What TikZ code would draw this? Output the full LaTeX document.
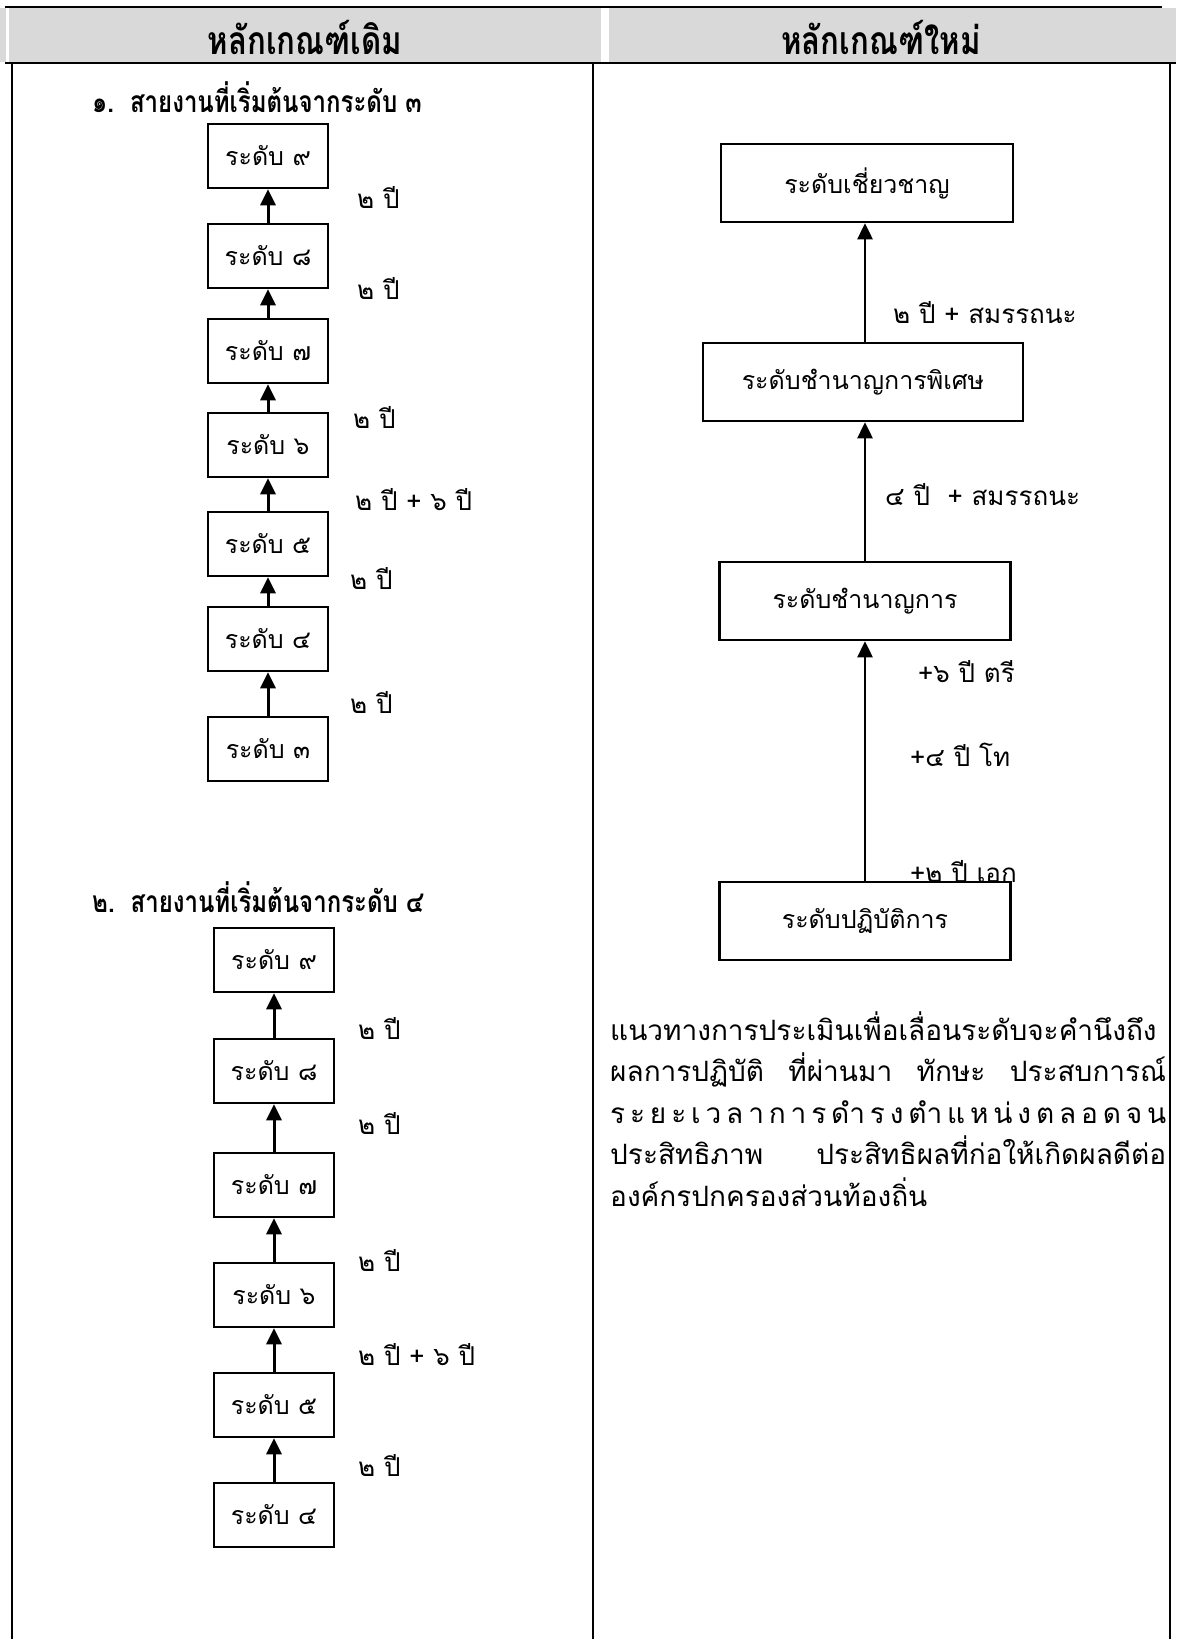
\documentclass[tikz,border=0pt]{standalone}
\usepackage{fontspec}
\setmainfont{Loma}[Script=Thai]
\newfontfamily\headfont{Loma}[Script=Thai,FakeStretch=0.8]
\usetikzlibrary{arrows.meta}

\definecolor{headgray}{HTML}{D9D9D9}
\newcommand{\jline}[1]{\makebox[556pt][s]{#1}}

\tikzset{
  lvl/.style={draw, line width=2.5pt, minimum width=120pt, minimum height=64pt, inner sep=0pt,
              font=\fontsize{25}{28}\selectfont},
  rank/.style={lvl, minimum width=292pt, minimum height=78pt},
  uparrow/.style={-{Triangle[width=15pt,length=16pt]}, line width=3pt},
  yrs/.style={anchor=west, inner sep=0pt, font=\fontsize{26}{28}\selectfont},
  rule/.style={line width=2.5pt},
}

\begin{document}
\begin{tikzpicture}[x=1pt,y=-1pt]
  \useasboundingbox (0,0) rectangle (1178,1639);

  % header row
  \fill[headgray] (0,8) rectangle (1176,62);
  \fill[white] (6,8) rectangle (9,62);
  \fill[white] (601,8) rectangle (609,62);
  \draw[line width=2pt] (5,7) -- (1162,7);
  \draw[rule] (5,63) -- (1176,63);
  \draw[rule] (12,63) -- (12,1639);
  \draw[rule] (593,63) -- (593,1639);
  \draw[rule] (1170,63) -- (1170,1639);

  \node[font=\headfont\bfseries\fontsize{39}{40}\selectfont] (oldhead) at (305,37) {หลักเกณฑ์เดิม};
  \node[font=\headfont\bfseries\fontsize{39}{40}\selectfont] (newhead) at (881,37) {หลักเกณฑ์ใหม่};

  % line of work starting at level 3
  \node[anchor=west, inner sep=0pt, font=\headfont\bfseries\fontsize{30}{32}\selectfont] (title1) at (92,97)
    {๑.\hspace{16pt}สายงานที่เริ่มต้นจากระดับ ๓};

  \node[lvl] (a9) at (268,156) {ระดับ ๙};
  \node[lvl] (a8) at (268,256) {ระดับ ๘};
  \node[lvl] (a7) at (268,351) {ระดับ ๗};
  \node[lvl] (a6) at (268,445) {ระดับ ๖};
  \node[lvl] (a5) at (268,544) {ระดับ ๕};
  \node[lvl] (a4) at (268,639) {ระดับ ๔};
  \node[lvl] (a3) at (268,749) {ระดับ ๓};

  \draw[uparrow] (a8.north) -- (a9.south);
  \draw[uparrow] (a7.north) -- (a8.south);
  \draw[uparrow] (a6.north) -- (a7.south);
  \draw[uparrow] (a5.north) -- (a6.south);
  \draw[uparrow] (a4.north) -- (a5.south);
  \draw[uparrow] (a3.north) -- (a4.south);

  \node[yrs] (t98) at (357,197) {๒ ปี};
  \node[yrs] (t87) at (357,288) {๒ ปี};
  \node[yrs] (t76) at (353,417) {๒ ปี};
  \node[yrs] (t65) at (355,500) {๒ ปี + ๖ ปี};
  \node[yrs] (t54) at (350,578) {๒ ปี};
  \node[yrs] (t43) at (350,702) {๒ ปี};

  % line of work starting at level 4
  \node[anchor=west, inner sep=0pt, font=\headfont\bfseries\fontsize{30}{32}\selectfont] (title2) at (92,897)
    {๒.\hspace{16pt}สายงานที่เริ่มต้นจากระดับ ๔};

  \node[lvl] (b9) at (274,960) {ระดับ ๙};
  \node[lvl] (b8) at (274,1071) {ระดับ ๘};
  \node[lvl] (b7) at (274,1185) {ระดับ ๗};
  \node[lvl] (b6) at (274,1295) {ระดับ ๖};
  \node[lvl] (b5) at (274,1405) {ระดับ ๕};
  \node[lvl] (b4) at (274,1515) {ระดับ ๔};

  \draw[uparrow] (b8.north) -- (b9.south);
  \draw[uparrow] (b7.north) -- (b8.south);
  \draw[uparrow] (b6.north) -- (b7.south);
  \draw[uparrow] (b5.north) -- (b6.south);
  \draw[uparrow] (b4.north) -- (b5.south);

  \node[yrs] (s98) at (358,1028) {๒ ปี};
  \node[yrs] (s87) at (358,1123) {๒ ปี};
  \node[yrs] (s76) at (358,1260) {๒ ปี};
  \node[yrs] (s65) at (358,1355) {๒ ปี + ๖ ปี};
  \node[yrs] (s54) at (358,1465) {๒ ปี};

  % new ranks
  \node[rank] (expert) at (867,183) {ระดับเชี่ยวชาญ};
  \node[rank, minimum width=320pt] (senior) at (863,382) {ระดับชำนาญการพิเศษ};
  \node[rank, minimum width=291pt] (prof) at (865,601) {ระดับชำนาญการ};
  \node[rank, minimum width=291pt] (oper) at (865,921) {ระดับปฏิบัติการ};

  \draw[uparrow, line width=2.5pt] (oper.north) -- (oper.north |- prof.south);
  \draw[uparrow, line width=2.5pt] (prof.north) -- (prof.north |- senior.south);
  \draw[uparrow, line width=2.5pt] (senior.north -| prof.north) -- (prof.north |- expert.south);

  \node[yrs] (r2) at (893,313) {๒ ปี + สมรรถนะ};
  \node[yrs] (r4) at (885,495) {๔ ปี \ + สมรรถนะ};
  \node[yrs] (bach) at (918,672) {+๖ ปี ตรี};
  \node[yrs] (mast) at (910,755) {+๔ ปี โท};
  \node[yrs] (doct) at (910,872) {+๒ ปี เอก};

  \node[anchor=north west, inner sep=0pt, align=left, font=\fontsize{28}{41.5}\selectfont] (note) at (610,1011)
    {\jline{แนวทางการประเมินเพื่อเลื่อนระดับจะคำนึงถึง}\\
     \jline{ผลการปฏิบัติ ที่ผ่านมา ทักษะ ประสบการณ์}\\
     \jline{\spaceskip=0pt plus 1fil ร ะ ย ะ เ ว ล า ก า ร ดำ ร ง ตำ แ ห น่ ง ต ล อ ด จ น}\\
     \jline{\spaceskip=2pt plus 1fil ประสิทธิภาพ ประสิทธิผลที่ก่อให้เกิดผลดีต่อ}\\
     องค์กรปกครองส่วนท้องถิ่น};

\end{tikzpicture}
\end{document}
